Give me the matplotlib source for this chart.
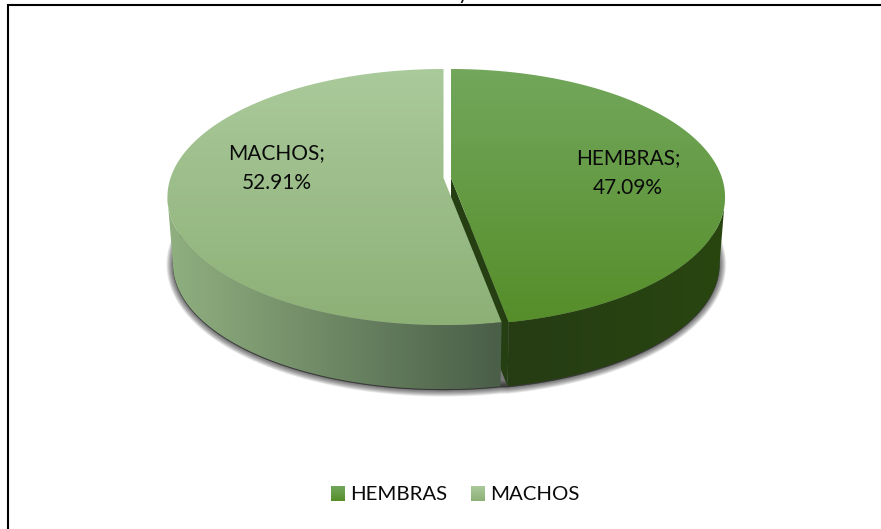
import numpy as np
import matplotlib
matplotlib.use("Agg")
import matplotlib.pyplot as plt
from matplotlib.patches import Polygon
from matplotlib.colors import LinearSegmentedColormap

categories = ["HEMBRAS", "MACHOS"]
values = [47.09, 52.91]
label_text = ["HEMBRAS;\n47.09%", "MACHOS;\n52.91%"]

top_colors = [("#72A75C", "#568E2A"), ("#AACA9B", "#8DB077")]
side_colors = [("#294610", "#263C14"), ("#4A5E48", "#90B080")]

plt.rcParams["font.family"] = ["Lato", "DejaVu Sans"]
W, H = 881, 529
fig = plt.figure(figsize=(W / 100, H / 100), dpi=100)
ax = fig.add_axes([0, 0, 1, 1])
ax.set_axis_off()

K = 0.1486


def project(theta, cx, a, cy=178.0, b=125.2, k=K, scale=1.0, dy=0.0):
    """Perspective view of a unit circle; theta runs clockwise from the top."""
    s, c = np.sin(theta), np.cos(theta)
    d = 1 + k * c
    return cx + scale * a * s / d, cy + dy - scale * b * c / d


def gradient(poly, colors, horizontal=False, zorder=2):
    cmap = LinearSegmentedColormap.from_list("g", colors)
    g = np.linspace(0, 1, 256)
    g = g.reshape(1, -1) if horizontal else g.reshape(-1, 1)
    xy = poly.get_xy()
    ext = (xy[:, 0].min(), xy[:, 0].max(), xy[:, 1].max(), xy[:, 1].min())
    im = ax.imshow(g, cmap=cmap, extent=ext, origin="upper", aspect="auto",
                   interpolation="bilinear", zorder=zorder)
    ax.add_patch(poly)
    poly.set(facecolor="none", edgecolor="none", zorder=zorder)
    im.set_clip_path(poly)


fractions = np.array(values) / sum(values)
split = 2 * np.pi * fractions[0]
CX = [451.0, 443.5]
A = [271.0, 273.0]
DEPTH, BSCALE = 67.0, 0.98
tangent = np.arccos(-K)  # where the rim is widest on screen

# soft shadow beneath the front of the base
t1 = np.linspace(tangent - 0.35, split, 200)
t2 = np.linspace(split, 2 * np.pi - tangent + 0.35, 200)
s1 = project(t1, CX[0], A[0], scale=BSCALE, dy=DEPTH + 1.0)
s2 = project(t2, CX[1], A[1], scale=BSCALE, dy=DEPTH + 1.0)
bx, by = np.r_[s1[0], s2[0]], np.r_[s1[1], s2[1]]
for w in np.linspace(1.0, 13, 10):
    ax.add_patch(Polygon(np.c_[bx, by], closed=True, facecolor=(0, 0, 0, 0.07),
                         edgecolor=(0, 0, 0, 0.07), lw=w * 0.72, zorder=1, joinstyle="round"))

# HEMBRAS: inner cut wall, outer wall, top
vx, vy = project(split, CX[0], A[0])
wx, wy = project(split, CX[0], A[0], scale=BSCALE, dy=DEPTH)
ax.add_patch(Polygon([(CX[0], 178), (vx, vy), (wx, wy), (CX[0], 178 + DEPTH)],
                     closed=True, facecolor="#263F12", edgecolor="none", zorder=2))
ts = np.linspace(tangent, split, 200)
tx, ty = project(ts, CX[0], A[0])
sx, sy = project(ts[::-1], CX[0], A[0], scale=BSCALE, dy=DEPTH)
gradient(Polygon(np.c_[np.r_[tx, sx], np.r_[ty, sy]], closed=True),
         side_colors[0][::-1], horizontal=True, zorder=3)
tt = np.linspace(0, split, 300)
px, py = project(tt, CX[0], A[0])
gradient(Polygon(np.c_[np.r_[CX[0], px], np.r_[178, py]], closed=True), top_colors[0], zorder=4)

# MACHOS: outer wall, top
ts = np.linspace(split, 2 * np.pi - tangent, 200)
tx, ty = project(ts, CX[1], A[1])
sx, sy = project(ts[::-1], CX[1], A[1], scale=BSCALE, dy=DEPTH)
gradient(Polygon(np.c_[np.r_[tx, sx], np.r_[ty, sy]], closed=True),
         side_colors[1][::-1], horizontal=True, zorder=5)
tt = np.linspace(split, 2 * np.pi, 300)
px, py = project(tt, CX[1], A[1])
gradient(Polygon(np.c_[np.r_[CX[1], px], np.r_[178, py]], closed=True), top_colors[1], zorder=6)

# labels
label_pos = [(628, 173), (277, 168)]
for txt, (x, y) in zip(label_text, label_pos):
    ax.text(x, y, txt, ha="center", va="center", fontsize=15, color="#0a0a0a",
            linespacing=1.62, zorder=8)

# legend
leg_patch_x = [331, 471]
leg_text_x = [350.5, 490.5]
for i, cat in enumerate(categories):
    gradient(Polygon([(leg_patch_x[i], 486), (leg_patch_x[i] + 14, 486),
                      (leg_patch_x[i] + 14, 501), (leg_patch_x[i], 501)], closed=True),
             top_colors[i], zorder=8)
    ax.text(leg_text_x[i], 494.5, cat, ha="left", va="center", fontsize=14.7,
            color="#0a0a0a", zorder=8)

# frame, and the bit of the cropped-off title
ax.plot([8, 8, W], [H, 5, 5], color="black", lw=1.5, zorder=9, solid_joinstyle="miter")
ax.text(463, -1, "y", ha="center", va="baseline", fontsize=15, color="#0a0a0a", clip_on=False)

ax.set_xlim(0, W)
ax.set_ylim(H, 0)
fig.savefig("out.png", dpi=100, facecolor="white")
